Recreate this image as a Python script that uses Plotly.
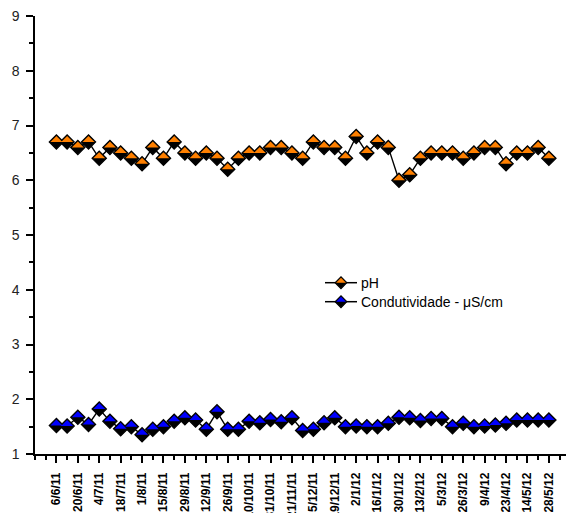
import plotly.graph_objects as go

# ---------------- data ----------------
dates = ["6/6/11", "13/6/11", "20/6/11", "27/6/11", "4/7/11", "11/7/11", "18/7/11", "25/7/11",
         "1/8/11", "8/8/11", "15/8/11", "22/8/11", "29/8/11", "5/9/11", "12/9/11", "19/9/11",
         "26/9/11", "3/10/11", "10/10/11", "17/10/11", "31/10/11", "7/11/11", "21/11/11", "28/11/11",
         "5/12/11", "12/12/11", "19/12/11", "26/12/11", "2/1/12", "9/1/12", "16/1/12", "23/1/12",
         "30/1/12", "6/2/12", "13/2/12", "27/2/12", "5/3/12", "19/3/12", "26/3/12", "2/4/12",
         "9/4/12", "16/4/12", "23/4/12", "7/5/12", "14/5/12", "21/5/12", "28/5/12"]

ph_values = [6.7, 6.7, 6.6, 6.7, 6.4, 6.6, 6.5, 6.4, 6.3, 6.6, 6.4, 6.7, 6.5, 6.4, 6.5, 6.4,
             6.2, 6.4, 6.5, 6.5, 6.6, 6.6, 6.5, 6.4, 6.7, 6.6, 6.6, 6.4, 6.8, 6.5, 6.7, 6.6,
             6.0, 6.1, 6.4, 6.5, 6.5, 6.5, 6.4, 6.5, 6.6, 6.6, 6.3, 6.5, 6.5, 6.6, 6.4]

cond_values = [1.52, 1.51, 1.67, 1.54, 1.82, 1.60, 1.46, 1.50, 1.35, 1.45, 1.50, 1.60, 1.66, 1.62,
               1.45, 1.77, 1.45, 1.45, 1.60, 1.57, 1.63, 1.59, 1.66, 1.43, 1.45, 1.57, 1.66, 1.50,
               1.51, 1.50, 1.50, 1.56, 1.67, 1.66, 1.61, 1.65, 1.65, 1.50, 1.56, 1.50, 1.51, 1.53,
               1.56, 1.62, 1.62, 1.62, 1.62]

series_names = ["pH", "Condutividade - μS/cm"]
series_colors = ["#FF8000", "#0000FF"]

# ---------------- layout constants ----------------
W, H = 566, 513
ML, MR, MT, MB = 35, 0, 16, 59
XR = [-2, 47.6]
YR = [1, 9]
PW = W - ML - MR
PH = H - MT - MB
sx = PW / (XR[1] - XR[0])   # px per x unit
sy = PH / (YR[1] - YR[0])   # px per y unit
FONT = "Liberation Sans, Arial, sans-serif"
MSIZE = 11
HALF_R = 6.0

x = list(range(len(dates)))
fig = go.Figure()


def half_polys(xs, ys, r, kx, ky):
    """top half triangles of diamonds (ky>0 means up is +y)"""
    px, py = [], []
    for xi, yi in zip(xs, ys):
        px += [xi - r / kx, xi, xi + r / kx, xi - r / kx, None]
        py += [yi, yi + r / ky, yi, yi, None]
    return px, py


for vals, color in zip([ph_values, cond_values], series_colors):
    fig.add_trace(go.Scatter(x=x, y=vals, mode="lines",
                             line=dict(color="black", width=1.4),
                             hoverinfo="skip", showlegend=False))
    fig.add_trace(go.Scatter(x=x, y=vals, mode="markers",
                             marker=dict(symbol="diamond", size=MSIZE, color="black",
                                         line=dict(color="black", width=1.2)),
                             showlegend=False))
    hx, hy = half_polys(x, vals, HALF_R, sx, sy)
    fig.add_trace(go.Scatter(x=hx, y=hy, mode="lines", fill="toself", fillcolor=color,
                             line=dict(width=0, color=color), hoverinfo="skip",
                             showlegend=False))

# ---------------- custom legend (pixel axes) ----------------
leg_rows = [266.7, 285.7]
leg_x0, leg_x1, leg_xm, leg_tx = 290, 322, 306, 324
for name, color, ry in zip(series_names, series_colors, leg_rows):
    fig.add_trace(go.Scatter(x=[leg_x0, leg_x1], y=[ry, ry], mode="lines",
                             line=dict(color="black", width=1.5),
                             xaxis="x2", yaxis="y2", hoverinfo="skip", showlegend=False))
    fig.add_trace(go.Scatter(x=[leg_xm], y=[ry], mode="markers",
                             marker=dict(symbol="diamond", size=9, color="black",
                                         line=dict(color="black", width=1.2)),
                             xaxis="x2", yaxis="y2", hoverinfo="skip", showlegend=False))
    hx, hy = half_polys([leg_xm], [ry], 4.9, 1, -1)
    fig.add_trace(go.Scatter(x=hx, y=hy, mode="lines", fill="toself", fillcolor=color,
                             line=dict(width=0, color=color), xaxis="x2", yaxis="y2",
                             hoverinfo="skip", showlegend=False))
    fig.add_annotation(x=leg_tx, y=ry, xref="x2", yref="y2", text=name, showarrow=False,
                       xanchor="left", yanchor="middle",
                       font=dict(family=FONT, size=14, color="black"))

fig.update_layout(
    width=W, height=H,
    margin=dict(l=ML, r=MR, t=MT, b=MB, pad=0),
    paper_bgcolor="white", plot_bgcolor="white",
    showlegend=False,
    xaxis=dict(range=XR, showline=True, linecolor="black", linewidth=1.5,
               showgrid=False, zeroline=False, automargin=False,
               tickmode="array", tickvals=x[::2], ticktext=dates[::2],
               ticks="outside", ticklen=7, tickwidth=1.5, tickcolor="black",
               tickangle=-90, ticklabelstandoff=5,
               tickfont=dict(family=FONT, size=12, color="black", weight="bold"),
               minor=dict(tickmode="linear", tick0=0, dtick=1, ticks="outside",
                          ticklen=4, tickwidth=1.5, tickcolor="black")),
    yaxis=dict(range=YR, showline=True, linecolor="black", linewidth=1.5,
               showgrid=False, zeroline=False, automargin=False,
               tickmode="linear", tick0=1, dtick=1,
               ticks="outside", ticklen=7, tickwidth=1.5, tickcolor="black",
               ticklabelstandoff=4,
               tickfont=dict(family=FONT, size=14, color="#222222"),
               minor=dict(tickmode="linear", tick0=1, dtick=0.5, ticks="outside",
                          ticklen=4, tickwidth=1.5, tickcolor="black")),
    xaxis2=dict(domain=[0, 1], range=[0, PW], overlaying="x", anchor="y2", visible=False),
    yaxis2=dict(domain=[0, 1], range=[PH, 0], overlaying="y", anchor="x2", visible=False),
)

fig.write_html("out.html")
